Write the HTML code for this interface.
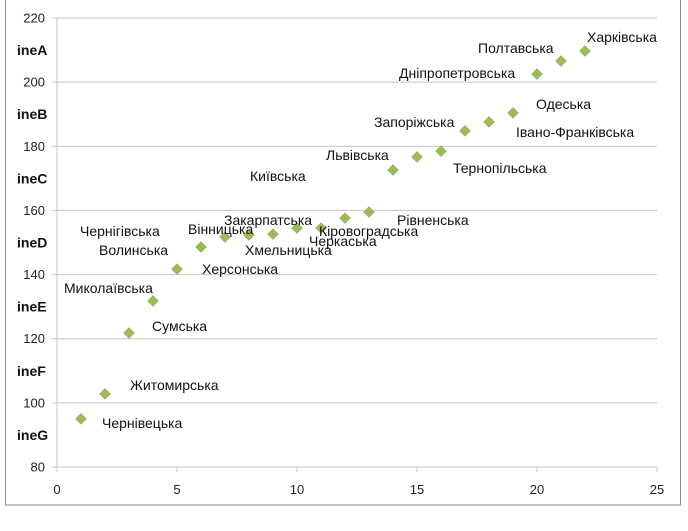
<!DOCTYPE html>
<html><head><meta charset="utf-8"><style>
body{margin:0;background:#fff;font-family:"Liberation Sans",sans-serif}
</style></head><body>
<svg id="chart" width="688" height="526" xmlns="http://www.w3.org/2000/svg" font-family="Liberation Sans, sans-serif">
<rect x="5.5" y="-2" width="675" height="507" fill="#fff" stroke="#888"/>
<g id="grid"></g><g id="ticks"></g><g id="cats"></g><g id="marks"></g><g id="labels"></g>
</svg>
<script>
const xs=[1,2,3,4,5,6,7,8,9,10,11,12,13,14,15,16,17,18,19,20,21,22];
const ys=[95,102.8,121.8,131.8,141.7,148.6,151.7,152.3,152.6,154.5,154.5,157.6,159.5,172.6,176.7,178.5,184.8,187.6,190.4,202.5,206.6,209.7];
const names=["Чернівецька","Житомирська","Сумська","Миколаївська","Херсонська","Волинська","Чернігівська","Вінницька","Закарпатська","Хмельницька","Черкаська","Кіровоградська","Рівненська","Київська","Львівська","Тернопільська","Запоріжська","Івано-Франківська","Одеська","Дніпропетровська","Полтавська","Харківська"];
const yTicks=[80,100,120,140,160,180,200,220];
const xTicks=[0,5,10,15,20,25];
const cats=["ineA","ineB","ineC","ineD","ineE","ineF","ineG"];
const catVals=[210,190,170,150,130,110,90];
const offs=[[21,4],[25,-9],[23,-7],[-89,-13],[25,0],[-102,3],[-145,-6],[-61,-6],[-49,-14],[-52,22],[-12,13],[-26,13],[28,8],[-143,6],[-91,-2],[12,17],[-91,-9],[27,10],[23,-9],[-138,-1],[-83,-13],[2,-14]];
const X=v=>57+v*(600/25), Y=v=>18+(220-v)*(449/140);
const NS="http://www.w3.org/2000/svg";
function mk(t,a,p,txt){const e=document.createElementNS(NS,t);for(const k in a)e.setAttribute(k,a[k]);if(txt!=null)e.textContent=txt;p.appendChild(e);return e;}
const G=document.getElementById('grid'),T=document.getElementById('ticks'),C=document.getElementById('cats'),M=document.getElementById('marks'),L=document.getElementById('labels');
yTicks.forEach(v=>{
 const l=mk('line',{x1:52,x2:X(25),y1:Y(v),y2:Y(v),stroke:'#c4c4c4'},G);
 
 
 const t=mk('text',{x:45,y:Y(v)+4.5,'text-anchor':'end','font-size':13,fill:'#222'},T,v);
 
 
});
const ax=mk('line',{x1:X(0),x2:X(0),y1:Y(220),y2:Y(80)+4,stroke:'#c4c4c4'},G);


xTicks.forEach(v=>{
 const l=mk('line',{x1:X(v),x2:X(v),y1:Y(80),y2:Y(80)+5,stroke:'#c4c4c4'},G);
 
 
 const t=mk('text',{x:X(v),y:Y(80)+27,'text-anchor':'middle','font-size':13,fill:'#222'},T,v);
 
 
});
cats.forEach((c,i)=>{
 const t=mk('text',{x:17,y:Y(catVals[i])+5,'font-size':14,'font-weight':'bold',fill:'#111'},C,c);
 
 
});
xs.forEach((x,i)=>{
 const px=X(x),py=Y(ys[i]);
 const d=mk('path',{d:`M${px} ${py-5.5}L${px+5.5} ${py}L${px} ${py+5.5}L${px-5.5} ${py}Z`,fill:'#9bbb59',stroke:'#8aa84c','stroke-width':0.5},M);
 
 
 const t=mk('text',{x:px+offs[i][0],y:py+offs[i][1]+5,'font-size':14,fill:'#111'},L,names[i]);
 
 
});
</script>
</body></html>
